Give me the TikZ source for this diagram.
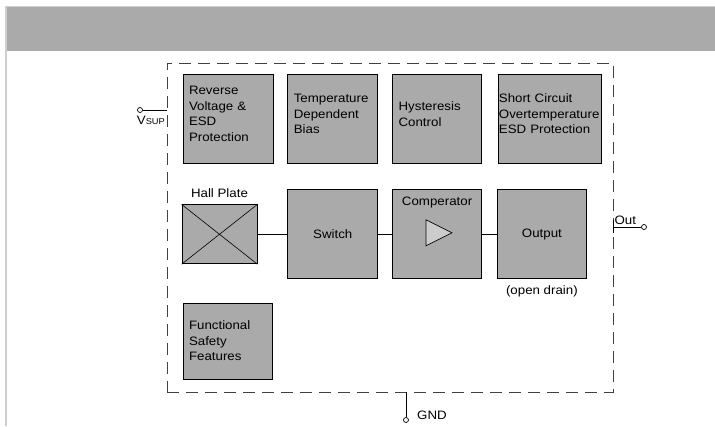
\documentclass[tikz,border=0pt]{standalone}
\usepackage{fontspec}
\setmainfont{Liberation Sans}[FakeStretch=1.09]
\usepackage{xcolor}
\usetikzlibrary{positioning, shapes.geometric}
\definecolor{blkgray}{HTML}{AAAAAA}
\definecolor{bargray}{HTML}{AAAAAA}
\definecolor{rimgray}{HTML}{CFCFCF}
\definecolor{trigray}{HTML}{CCCCCC}
\tikzset{
    x=1pt, y=-1pt, % pixel like units
    node distance=14pt, % gap between the blocks
    every node/.style={font=\fontsize{12.2}{15.5}\selectfont},
    blk/.style={draw, fill=blkgray, line width=0.8pt, minimum width=90pt, minimum height=89pt}, % grey function block
    txtblk/.style={blk, text width=78pt, align=left, inner xsep=6pt}, % block with text at the left
    raised/.style={execute at end node={\par\vspace{#1}}}, % lifts the text a little
    chip/.style={draw=black!75, line width=0.8pt, dash pattern=on 12pt off 7pt}, % the package outline
    pinc/.style={circle, draw, fill=white, line width=0.7pt, minimum size=5pt, inner sep=0pt}, % pin end
    wire/.style={line width=0.8pt},
}

\begin{document}
\begin{tikzpicture}
    \useasboundingbox (0,0) rectangle (715,426);
    % title bar and frame
    \fill[bargray] (5,6) rectangle (715,51);
    \draw[rimgray, line width=1pt] (5,6.5) -- (715,6.5);
    \draw[rimgray, line width=2pt] (6,6) -- (6,426);

    \node[chip, minimum width=446pt, minimum height=329pt] (ic) at (390,227.5) {};

    % top row
    \node[txtblk, raised=9pt] (rvp) at (228,118.5) {Reverse\\Voltage \&\\ESD\\Protection};
    \node[txtblk, raised=9pt] (tdb) [right=of rvp] {Temperature\\Dependent\\Bias};
    \node[txtblk, raised=9pt, minimum width=89pt, text width=77pt] (hys) [right=of tdb] {Hysteresis\\Control};
    \node[blk, raised=9pt, minimum width=103pt, text width=102pt, align=left, inner xsep=0.5pt] (sco) [right=16pt of hys] {Short Circuit\\Overtemperature\\ESD Protection};

    % signal path
    \node[blk] (sw) [below=26pt of tdb] {Switch};
    \node[blk, minimum width=75pt, minimum height=59pt] (hall) [left=30pt of sw] {};
    \node[blk, minimum width=89pt] (cmp) [right=of sw] {};
    \node[blk, minimum width=89pt] (outb) [right=15pt of cmp] {Output};
    \node (hlab) [above=3pt of hall] {Hall Plate};
    \node (clab) [below=4pt of cmp.north] {Comperator};
    \node[isosceles triangle, isosceles triangle stretches, draw, fill=trigray, line width=0.7pt,
          minimum height=26pt, minimum width=26pt, inner sep=0pt, anchor=west]
          (amp) at ([xshift=-11.5pt, yshift=1.5pt]cmp.center) {};
    \node (odr) [below=3pt of outb] {(open drain)};
    \draw[line width=0.6pt] (hall.north west) -- (hall.south east)
                            (hall.north east) -- (hall.south west);
    \draw[wire] (hall) -- (sw);
    \draw[wire] (sw) -- (cmp);
    \draw[wire] (cmp) -- (outb);

    % bottom block
    \node[txtblk, minimum width=89pt, minimum height=76pt, text width=77pt] (fsf) at (227.5,341) {Functional\\Safety\\Features};

    % pins
    \coordinate (vin) at (ic.west |- 0,110);
    \node[pinc] (vpin) at (140,110) {};
    \draw[wire] (vpin) -- (vin);
    \node[anchor=east, inner sep=1pt] (vlab) at (166,120) {V{\fontsize{8.5}{10}\selectfont SUP}};

    \coordinate (oin) at (ic.east |- 0,227);
    \node[pinc] (opin) at (644,227) {};
    \draw[wire] ([yshift=7pt]oin) -- ([yshift=-6pt]oin);
    \draw[wire] (oin) -- (opin);
    \node[anchor=south west, inner sep=1pt] (olab) at ([yshift=1pt]oin) {Out};

    \coordinate (gin) at (ic.south -| 406,0);
    \node[pinc] (gpin) at (406,420) {};
    \draw[wire] (gin) -- (gpin);
    \node[anchor=west, inner sep=1pt] (glab) at (416,415) {GND};
\end{tikzpicture}
\end{document}
